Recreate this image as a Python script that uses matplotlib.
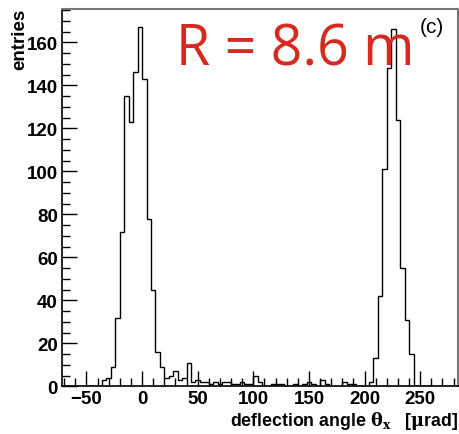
import numpy as np
import matplotlib
matplotlib.use("Agg")
from matplotlib import pyplot as plt
from matplotlib.ticker import MultipleLocator

# -- Data ---------------------------------------------------------------------

bin_start = -72
bin_width = 4
# entries per 4 urad bin, starting at -72
counts = [
    0, 0, 0, 0, 0, 0, 0, 0,                       # -72 .. -44
    0, 3, 4, 9, 32, 72, 135, 123, 146, 167,       # -40 .. -4
    143, 78, 45, 16, 9, 4, 5, 7, 3, 4,            # 0 .. 36
    11, 2, 3, 2, 2, 1, 2, 1, 2, 2,                # 40 .. 76
    1, 1, 2, 1, 1, 5, 2, 0, 0, 1,                 # 80 .. 116
    1, 1, 0, 0, 1, 0, 1, 2, 1, 0,                 # 120 .. 156
    3, 1, 0, 0, 0, 2, 1, 1, 0, 0,                 # 160 .. 196
    0, 2, 13, 42, 101, 148, 166, 124, 55, 31,     # 200 .. 236
    15, 0, 0, 0, 0, 0, 0, 0, 0, 0, 0,             # 240 .. 280
]
x_major = [-50, 0, 50, 100, 150, 200, 250]
y_major = [0, 20, 40, 60, 80, 100, 120, 140, 160]

edges = bin_start + bin_width * np.arange(len(counts) + 1)

# -- Figure ---------------------------------------------------------------------

plt.rcParams["font.family"] = ["Liberation Sans", "DejaVu Sans"]
plt.rcParams["mathtext.fontset"] = "dejavuserif"

fig = plt.figure(figsize=(4.59, 4.35), dpi=100)
ax = fig.add_axes((62 / 459, 47.7 / 435, 396 / 459, 377.3 / 435))

ax.stairs(counts, edges, color="black", linewidth=1.0, baseline=0)

ax.set_xlim(edges[0], edges[-1])
ax.set_ylim(0, 175.5)
ax.set_xticks(x_major)
ax.set_yticks(y_major)
ax.xaxis.set_minor_locator(MultipleLocator(10))
ax.yaxis.set_minor_locator(MultipleLocator(5))
ax.tick_params(which="both", direction="in", top=False, right=False,
               width=1, labelsize=13.5, pad=3)
ax.tick_params(which="major", length=11)
ax.tick_params(which="minor", length=6)
for lab in ax.get_xticklabels() + ax.get_yticklabels():
    lab.set_fontweight("bold")

for side in ("left", "bottom"):
    ax.spines[side].set_color("black")
    ax.spines[side].set_linewidth(1.2)
for side in ("top", "right"):
    ax.spines[side].set_color("#777777")
    ax.spines[side].set_linewidth(1.5)

fig.text(20 / 459, 1 - 9 / 435, "entries", rotation=90, ha="center", va="top",
         fontsize=13.5, fontweight="bold")
fig.text(458 / 459, 1 - 421 / 435,
         r"deflection angle $\mathbf{\theta}_{\mathbf{x}}$   [$\mathbf{\mu}$rad]",
         ha="right", va="center", fontsize=12.8, fontweight="bold")

fig.text(176 / 459, 1 - 65 / 435, "R = 8.6 m", color="#d62a20",
         fontsize=40, ha="left", va="baseline", family=["Open Sans", "DejaVu Sans"])
fig.text(420 / 459, 1 - 33 / 435, "(c)", color="black", fontsize=15,
         ha="left", va="baseline")

fig.savefig("out.png", dpi=100, facecolor="white")
